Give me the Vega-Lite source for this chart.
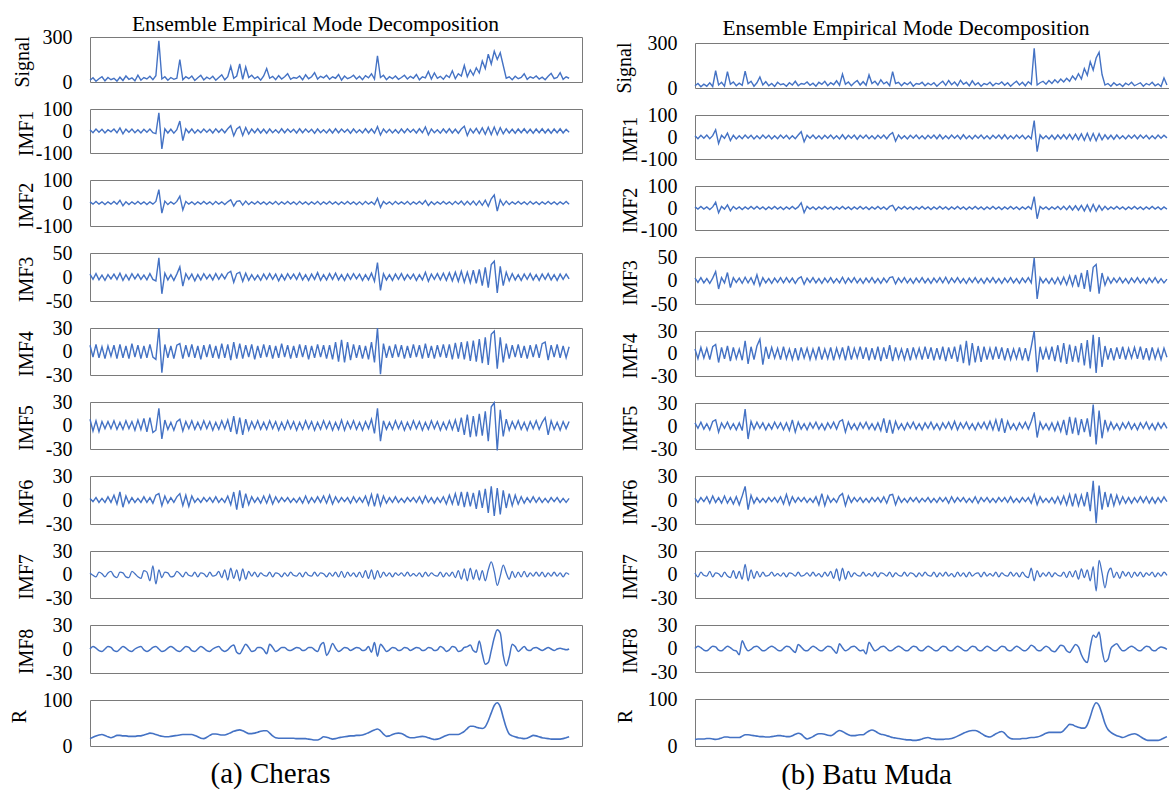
{
"$schema":"https://vega.github.io/schema/vega-lite/v6.json",
"padding":{"left":8,"top":12,"right":0,"bottom":0},
"background":"white",
"config":{
"view":{"stroke":"#7a7a7a","strokeWidth":1},
"axis":{"grid":false,"ticks":false,"domain":false,"labelFont":"Liberation Serif","labelFontSize":20,"labelColor":"#000000","labelPadding":18,"labelOverlap":false,"titleFont":"Liberation Serif","titleFontSize":20,"titleFontWeight":"normal","titleColor":"#000000"},
"axisY":{"labelExpr":"''+datum.value"},
"line":{"color":"#4472C4","strokeWidth":1.4}
},
"datasets":{
"L":[
{"x":0,"S":12,"a":6,"b":5,"c":6,"d":8,"e":8,"f":2,"g":2,"h":0,"r":16},
{"x":1,"S":28,"a":-8,"b":-5,"c":-5,"d":-7,"e":-7,"f":-2,"g":-1,"h":3,"r":19},
{"x":2,"S":5,"a":9,"b":7,"c":7,"d":9,"e":6,"f":3,"g":-3,"h":1,"r":22},
{"x":3,"S":22,"a":-6,"b":-5,"c":-6,"d":-8,"e":-8,"f":-3,"g":3,"h":-2,"r":24},
{"x":4,"S":35,"a":8,"b":5,"c":4,"d":6,"e":5,"f":2,"g":1,"h":-3,"r":25},
{"x":5,"S":8,"a":-9,"b":-7,"c":-7,"d":-9,"e":-4,"f":-3,"g":-3,"h":0,"r":23},
{"x":6,"S":30,"a":6,"b":5,"c":5,"d":7,"e":5,"f":4,"g":2,"h":3,"r":20},
{"x":7,"S":15,"a":-4,"b":-5,"c":-4,"d":-6,"e":-4,"f":-3,"g":4,"h":2,"r":18},
{"x":8,"S":25,"a":9,"b":7,"c":6,"d":8,"e":6,"f":6,"g":-2,"h":-2,"r":20},
{"x":9,"S":6,"a":-8,"b":-5,"c":-5,"d":-9,"e":-5,"f":-5,"g":-4,"h":-3,"r":23},
{"x":10,"S":32,"a":14,"b":12,"c":8,"d":9,"e":4,"f":10,"g":3,"h":0,"r":23},
{"x":11,"S":10,"a":-13,"b":-12,"c":-7,"d":-8,"e":-5,"f":-9,"g":2,"h":3,"r":22},
{"x":12,"S":40,"a":8,"b":5,"c":5,"d":7,"e":6,"f":5,"g":-3,"h":1,"r":22},
{"x":13,"S":18,"a":-6,"b":-7,"c":-6,"d":-9,"e":-4,"f":-4,"g":-4,"h":-2,"r":21},
{"x":14,"S":28,"a":9,"b":5,"c":7,"d":10,"e":5,"f":3,"g":4,"h":-3,"r":21},
{"x":15,"S":8,"a":-8,"b":-5,"c":-4,"d":-7,"e":-6,"f":-3,"g":1,"h":0,"r":21},
{"x":16,"S":45,"a":6,"b":7,"c":6,"d":8,"e":7,"f":2,"g":-3,"h":2,"r":22},
{"x":17,"S":12,"a":-9,"b":-5,"c":-5,"d":-9,"e":-5,"f":-3,"g":-5,"h":3,"r":22},
{"x":18,"S":30,"a":8,"b":5,"c":4,"d":7,"e":9,"f":4,"g":5,"h":-1,"r":24},
{"x":19,"S":20,"a":-6,"b":-7,"c":-6,"d":-8,"e":-8,"f":-3,"g":3,"h":-3,"r":26},
{"x":20,"S":38,"a":9,"b":5,"c":7,"d":9,"e":10,"f":3,"g":-8,"h":-1,"r":28},
{"x":21,"S":15,"a":-8,"b":-5,"c":-5,"d":-7,"e":-9,"f":-4,"g":11,"h":2,"r":27},
{"x":22,"S":42,"a":-12,"b":7,"c":-8,"d":-10,"e":-6,"f":6,"g":-12,"h":3,"r":25},
{"x":23,"S":275,"a":83,"b":58,"c":40,"d":30,"e":22,"f":8,"g":6,"h":0,"r":23},
{"x":24,"S":20,"a":-81,"b":-44,"c":-35,"d":-27,"e":-17,"f":-7,"g":-4,"h":-3,"r":21},
{"x":25,"S":35,"a":10,"b":8,"c":8,"d":9,"e":7,"f":5,"g":3,"h":-2,"r":20},
{"x":26,"S":12,"a":-9,"b":-7,"c":-6,"d":-8,"e":-5,"f":-4,"g":2,"h":1,"r":20},
{"x":27,"S":30,"a":8,"b":5,"c":5,"d":7,"e":4,"f":3,"g":-3,"h":3,"r":21},
{"x":28,"S":18,"a":-10,"b":-5,"c":-7,"d":-9,"e":-6,"f":-3,"g":-2,"h":1,"r":22},
{"x":29,"S":25,"a":6,"b":7,"c":6,"d":8,"e":5,"f":4,"g":4,"h":-2,"r":23},
{"x":30,"S":150,"a":45,"b":30,"c":21,"d":10,"e":8,"f":8,"g":1,"h":-3,"r":24},
{"x":31,"S":15,"a":-44,"b":-30,"c":-19,"d":-9,"e":-7,"f":-7,"g":-3,"h":0,"r":25},
{"x":32,"S":35,"a":10,"b":7,"c":7,"d":8,"e":5,"f":6,"g":3,"h":3,"r":25},
{"x":33,"S":22,"a":-8,"b":-5,"c":-5,"d":-7,"e":-4,"f":-8,"g":-1,"h":2,"r":25},
{"x":34,"S":40,"a":9,"b":5,"c":6,"d":9,"e":6,"f":5,"g":-2,"h":-2,"r":25},
{"x":35,"S":10,"a":-10,"b":-7,"c":-8,"d":-8,"e":-5,"f":-3,"g":3,"h":-3,"r":23},
{"x":36,"S":28,"a":6,"b":5,"c":5,"d":7,"e":4,"f":2,"g":-3,"h":0,"r":20},
{"x":37,"S":45,"a":-8,"b":-5,"c":-6,"d":-10,"e":-5,"f":-3,"g":2,"h":3,"r":17},
{"x":38,"S":14,"a":9,"b":7,"c":7,"d":8,"e":6,"f":3,"g":1,"h":1,"r":16},
{"x":39,"S":32,"a":-6,"b":-5,"c":-4,"d":-7,"e":-4,"f":-2,"g":-3,"h":-2,"r":19},
{"x":40,"S":20,"a":8,"b":5,"c":5,"d":9,"e":5,"f":3,"g":3,"h":-3,"r":23},
{"x":41,"S":38,"a":-9,"b":-7,"c":-6,"d":-8,"e":-6,"f":-3,"g":-2,"h":0,"r":26},
{"x":42,"S":12,"a":10,"b":7,"c":7,"d":7,"e":4,"f":4,"g":-1,"h":2,"r":26},
{"x":43,"S":30,"a":-6,"b":-5,"c":-5,"d":-9,"e":-5,"f":-3,"g":4,"h":3,"r":25},
{"x":44,"S":48,"a":9,"b":5,"c":6,"d":10,"e":6,"f":2,"g":-4,"h":-1,"r":24},
{"x":45,"S":15,"a":-8,"b":-7,"c":-4,"d":-8,"e":-4,"f":-3,"g":6,"h":-3,"r":24},
{"x":46,"S":35,"a":10,"b":5,"c":8,"d":9,"e":7,"f":5,"g":-7,"h":-1,"r":26},
{"x":47,"S":105,"a":24,"b":14,"c":12,"d":-11,"e":-8,"f":-6,"g":8,"h":3,"r":29},
{"x":48,"S":25,"a":-22,"b":-13,"c":-11,"d":12,"e":12,"f":10,"g":-5,"h":5,"r":32},
{"x":49,"S":40,"a":9,"b":7,"c":7,"d":-9,"e":-11,"f":-12,"g":6,"h":-4,"r":34},
{"x":50,"S":120,"a":20,"b":10,"c":10,"d":10,"e":10,"f":12,"g":-8,"h":-6,"r":35},
{"x":51,"S":18,"a":-20,"b":-9,"c":-9,"d":-9,"e":-12,"f":-10,"g":7,"h":0,"r":33},
{"x":52,"S":100,"a":16,"b":8,"c":8,"d":8,"e":8,"f":8,"g":-6,"h":6,"r":30},
{"x":53,"S":30,"a":-14,"b":-7,"c":-7,"d":-7,"e":-6,"f":-6,"g":4,"h":2,"r":27},
{"x":54,"S":45,"a":9,"b":5,"c":5,"d":9,"e":5,"f":4,"g":-2,"h":-3,"r":27},
{"x":55,"S":22,"a":-8,"b":-5,"c":-6,"d":-10,"e":-4,"f":-3,"g":3,"h":-2,"r":28},
{"x":56,"S":35,"a":10,"b":7,"c":4,"d":7,"e":6,"f":3,"g":-3,"h":2,"r":30},
{"x":57,"S":12,"a":-9,"b":-5,"c":-7,"d":-8,"e":-5,"f":-4,"g":2,"h":2,"r":32},
{"x":58,"S":40,"a":8,"b":5,"c":6,"d":9,"e":4,"f":5,"g":-1,"h":-1,"r":33},
{"x":59,"S":90,"a":-10,"b":-7,"c":-5,"d":-7,"e":-5,"f":-4,"g":-2,"h":-6,"r":33},
{"x":60,"S":25,"a":9,"b":5,"c":7,"d":8,"e":6,"f":6,"g":3,"h":6,"r":28},
{"x":61,"S":38,"a":-8,"b":-5,"c":-5,"d":-9,"e":-4,"f":-5,"g":-3,"h":2,"r":22},
{"x":62,"S":15,"a":6,"b":7,"c":6,"d":7,"e":5,"f":4,"g":2,"h":-3,"r":18},
{"x":63,"S":42,"a":-9,"b":-7,"c":-8,"d":-8,"e":-6,"f":-3,"g":1,"h":-1,"r":17},
{"x":64,"S":20,"a":10,"b":5,"c":5,"d":10,"e":4,"f":3,"g":-3,"h":2,"r":17},
{"x":65,"S":35,"a":-8,"b":-5,"c":-6,"d":-7,"e":-5,"f":-2,"g":2,"h":2,"r":17},
{"x":66,"S":55,"a":9,"b":7,"c":7,"d":8,"e":6,"f":3,"g":-2,"h":-1,"r":17},
{"x":67,"S":18,"a":-6,"b":-5,"c":-4,"d":-9,"e":-4,"f":-3,"g":3,"h":-2,"r":17},
{"x":68,"S":30,"a":8,"b":5,"c":6,"d":7,"e":5,"f":2,"g":-1,"h":0,"r":17},
{"x":69,"S":25,"a":-9,"b":-7,"c":-5,"d":-8,"e":-6,"f":-3,"g":-2,"h":2,"r":16},
{"x":70,"S":40,"a":10,"b":7,"c":8,"d":9,"e":4,"f":3,"g":2,"h":1,"r":16},
{"x":71,"S":15,"a":-8,"b":-5,"c":-6,"d":-7,"e":-5,"f":-4,"g":-3,"h":-2,"r":16},
{"x":72,"S":48,"a":9,"b":5,"c":5,"d":8,"e":6,"f":5,"g":3,"h":-1,"r":16},
{"x":73,"S":22,"a":-6,"b":-7,"c":-7,"d":-10,"e":-4,"f":-4,"g":-1,"h":2,"r":15},
{"x":74,"S":35,"a":8,"b":5,"c":6,"d":7,"e":5,"f":3,"g":-2,"h":2,"r":14},
{"x":75,"S":62,"a":-10,"b":-5,"c":-5,"d":-8,"e":-6,"f":-3,"g":3,"h":-1,"r":13},
{"x":76,"S":20,"a":9,"b":7,"c":9,"d":9,"e":4,"f":4,"g":-2,"h":-3,"r":13},
{"x":77,"S":38,"a":-8,"b":-7,"c":-7,"d":-7,"e":-5,"f":-3,"g":2,"h":5,"r":16},
{"x":78,"S":28,"a":6,"b":5,"c":5,"d":8,"e":6,"f":5,"g":1,"h":8,"r":20},
{"x":79,"S":45,"a":-9,"b":-5,"c":-6,"d":-9,"e":-4,"f":-4,"g":-3,"h":-8,"r":19},
{"x":80,"S":18,"a":8,"b":7,"c":7,"d":8,"e":5,"f":6,"g":2,"h":-2,"r":17},
{"x":81,"S":35,"a":-9,"b":-5,"c":-5,"d":-10,"e":-6,"f":-5,"g":-2,"h":7,"r":15},
{"x":82,"S":25,"a":10,"b":5,"c":8,"d":12,"e":4,"f":4,"g":3,"h":1,"r":16},
{"x":83,"S":50,"a":-8,"b":-7,"c":-6,"d":-13,"e":-5,"f":-3,"g":-3,"h":-3,"r":18},
{"x":84,"S":12,"a":9,"b":5,"c":5,"d":15,"e":7,"f":3,"g":4,"h":-1,"r":19},
{"x":85,"S":40,"a":-6,"b":-5,"c":-7,"d":-14,"e":-6,"f":-2,"g":-4,"h":2,"r":20},
{"x":86,"S":22,"a":8,"b":7,"c":6,"d":12,"e":5,"f":3,"g":3,"h":1,"r":21},
{"x":87,"S":30,"a":-10,"b":-5,"c":-5,"d":-11,"e":-4,"f":-4,"g":-2,"h":-2,"r":22},
{"x":88,"S":45,"a":9,"b":5,"c":7,"d":9,"e":6,"f":4,"g":2,"h":0,"r":22},
{"x":89,"S":20,"a":-8,"b":-7,"c":-4,"d":-8,"e":-5,"f":-3,"g":-3,"h":2,"r":23},
{"x":90,"S":38,"a":6,"b":5,"c":6,"d":8,"e":4,"f":3,"g":3,"h":1,"r":23},
{"x":91,"S":15,"a":-9,"b":-7,"c":-7,"d":-9,"e":-6,"f":-3,"g":-4,"h":-2,"r":24},
{"x":92,"S":42,"a":10,"b":7,"c":5,"d":7,"e":5,"f":5,"g":5,"h":-1,"r":26},
{"x":93,"S":28,"a":-8,"b":-5,"c":-6,"d":-10,"e":-4,"f":-6,"g":-5,"h":3,"r":29},
{"x":94,"S":55,"a":9,"b":5,"c":8,"d":12,"e":8,"f":7,"g":6,"h":-4,"r":32},
{"x":95,"S":20,"a":-10,"b":-7,"c":-9,"d":-14,"e":-10,"f":-8,"g":-6,"h":8,"r":35},
{"x":96,"S":175,"a":20,"b":20,"c":30,"d":30,"e":22,"f":8,"g":5,"h":-9,"r":37},
{"x":97,"S":30,"a":-18,"b":-19,"c":-28,"d":-29,"e":-20,"f":-7,"g":-4,"h":6,"r":33},
{"x":98,"S":45,"a":9,"b":7,"c":7,"d":10,"e":6,"f":5,"g":3,"h":2,"r":26},
{"x":99,"S":15,"a":-8,"b":-5,"c":-6,"d":-8,"e":-5,"f":-4,"g":-2,"h":-3,"r":21},
{"x":100,"S":35,"a":8,"b":5,"c":5,"d":7,"e":4,"f":3,"g":2,"h":-1,"r":22},
{"x":101,"S":22,"a":-9,"b":-7,"c":-7,"d":-8,"e":-5,"f":-3,"g":-3,"h":2,"r":25},
{"x":102,"S":40,"a":6,"b":7,"c":6,"d":9,"e":6,"f":4,"g":2,"h":1,"r":27},
{"x":103,"S":18,"a":-10,"b":-5,"c":-5,"d":-7,"e":-4,"f":-3,"g":-1,"h":-2,"r":28},
{"x":104,"S":30,"a":9,"b":5,"c":7,"d":8,"e":5,"f":2,"g":2,"h":-1,"r":27},
{"x":105,"S":45,"a":-8,"b":-5,"c":-6,"d":-9,"e":-6,"f":-3,"g":-2,"h":2,"r":24},
{"x":106,"S":20,"a":10,"b":7,"c":5,"d":7,"e":4,"f":3,"g":3,"h":1,"r":20},
{"x":107,"S":38,"a":-6,"b":-7,"c":-4,"d":-8,"e":-5,"f":-2,"g":-2,"h":-2,"r":18},
{"x":108,"S":25,"a":8,"b":5,"c":6,"d":9,"e":6,"f":3,"g":1,"h":0,"r":18},
{"x":109,"S":50,"a":-9,"b":-5,"c":-7,"d":-7,"e":-4,"f":-3,"g":-2,"h":2,"r":19},
{"x":110,"S":15,"a":10,"b":7,"c":5,"d":8,"e":5,"f":4,"g":2,"h":1,"r":20},
{"x":111,"S":35,"a":-8,"b":-5,"c":-6,"d":-9,"e":-6,"f":-4,"g":-3,"h":-2,"r":21},
{"x":112,"S":28,"a":18,"b":11,"c":10,"d":10,"e":4,"f":5,"g":3,"h":-1,"r":20},
{"x":113,"S":70,"a":-17,"b":-11,"c":-9,"d":-8,"e":-5,"f":-3,"g":-2,"h":2,"r":18},
{"x":114,"S":20,"a":9,"b":5,"c":6,"d":7,"e":6,"f":3,"g":2,"h":1,"r":16},
{"x":115,"S":60,"a":-8,"b":-7,"c":-5,"d":-9,"e":-4,"f":-4,"g":-1,"h":-2,"r":14},
{"x":116,"S":25,"a":6,"b":5,"c":7,"d":8,"e":5,"f":3,"g":-2,"h":-1,"r":15},
{"x":117,"S":38,"a":-10,"b":-5,"c":-6,"d":-7,"e":-6,"f":-3,"g":3,"h":3,"r":17},
{"x":118,"S":18,"a":9,"b":7,"c":8,"d":9,"e":4,"f":4,"g":-3,"h":1,"r":20},
{"x":119,"S":45,"a":-8,"b":-5,"c":-7,"d":-8,"e":-5,"f":-5,"g":2,"h":-3,"r":23},
{"x":120,"S":30,"a":10,"b":5,"c":9,"d":9,"e":6,"f":6,"g":-2,"h":-1,"r":25},
{"x":121,"S":75,"a":-9,"b":-7,"c":-8,"d":-10,"e":-5,"f":-5,"g":3,"h":3,"r":25},
{"x":122,"S":22,"a":8,"b":7,"c":10,"d":11,"e":7,"f":8,"g":-4,"h":2,"r":25},
{"x":123,"S":55,"a":-10,"b":-5,"c":-9,"d":-9,"e":-8,"f":-7,"g":5,"h":-3,"r":25},
{"x":124,"S":40,"a":9,"b":8,"c":12,"d":12,"e":10,"f":10,"g":-6,"h":-2,"r":28},
{"x":125,"S":110,"a":22,"b":-8,"c":-11,"d":-10,"e":-12,"f":-9,"g":7,"h":2,"r":32},
{"x":126,"S":35,"a":-21,"b":7,"c":10,"d":13,"e":14,"f":10,"g":-8,"h":3,"r":38},
{"x":127,"S":80,"a":10,"b":-7,"c":-12,"d":-12,"e":-15,"f":-8,"g":8,"h":5,"r":43},
{"x":128,"S":45,"a":-9,"b":8,"c":14,"d":14,"e":12,"f":9,"g":-6,"h":-2,"r":43},
{"x":129,"S":95,"a":12,"b":-9,"c":-13,"d":-13,"e":-14,"f":-11,"g":6,"h":-4,"r":41},
{"x":130,"S":60,"a":-12,"b":9,"c":16,"d":16,"e":15,"f":12,"g":-7,"h":10,"r":39},
{"x":131,"S":140,"a":14,"b":-10,"c":-18,"d":-15,"e":-13,"f":-10,"g":5,"h":-6,"r":38},
{"x":132,"S":90,"a":-15,"b":12,"c":20,"d":18,"e":18,"f":14,"g":-8,"h":-19,"r":42},
{"x":133,"S":185,"a":17,"b":-14,"c":-22,"d":-17,"e":-20,"f":-16,"g":6,"h":-17,"r":55},
{"x":134,"S":120,"a":-16,"b":18,"c":26,"d":22,"e":24,"f":17,"g":16,"h":-2,"r":72},
{"x":135,"S":205,"a":18,"b":35,"c":33,"d":26,"e":29,"f":-20,"g":4,"h":14,"r":88},
{"x":136,"S":150,"a":-17,"b":-35,"c":-33,"d":-22,"e":-32,"f":15,"g":-14,"h":24,"r":94},
{"x":137,"S":195,"a":15,"b":14,"c":22,"d":18,"e":20,"f":-18,"g":-2,"h":20,"r":85},
{"x":138,"S":110,"a":-13,"b":-10,"c":-18,"d":-14,"e":-14,"f":12,"g":12,"h":-8,"r":62},
{"x":139,"S":25,"a":10,"b":8,"c":10,"d":10,"e":8,"f":-10,"g":2,"h":-21,"r":40},
{"x":140,"S":35,"a":-9,"b":-7,"c":-8,"d":-9,"e":-6,"f":8,"g":-6,"h":-10,"r":26},
{"x":141,"S":15,"a":8,"b":5,"c":7,"d":8,"e":5,"f":-7,"g":4,"h":6,"r":22},
{"x":142,"S":38,"a":-10,"b":-5,"c":-6,"d":-7,"e":-4,"f":6,"g":-4,"h":3,"r":20},
{"x":143,"S":22,"a":9,"b":7,"c":5,"d":9,"e":6,"f":-5,"g":3,"h":-3,"r":18},
{"x":144,"S":30,"a":-8,"b":-5,"c":-7,"d":-8,"e":-5,"f":4,"g":-3,"h":0,"r":17},
{"x":145,"S":55,"a":10,"b":5,"c":6,"d":7,"e":4,"f":-4,"g":4,"h":3,"r":16},
{"x":146,"S":18,"a":-9,"b":-7,"c":-5,"d":-9,"e":-6,"f":3,"g":-3,"h":-1,"r":17},
{"x":147,"S":35,"a":8,"b":7,"c":7,"d":8,"e":5,"f":-3,"g":2,"h":-2,"r":20},
{"x":148,"S":25,"a":-10,"b":-5,"c":-6,"d":-7,"e":-4,"f":4,"g":-2,"h":1,"r":23},
{"x":149,"S":40,"a":9,"b":5,"c":5,"d":9,"e":6,"f":-3,"g":3,"h":2,"r":22},
{"x":150,"S":20,"a":-8,"b":-7,"c":-7,"d":-8,"e":-5,"f":3,"g":-2,"h":0,"r":20},
{"x":151,"S":32,"a":10,"b":5,"c":6,"d":10,"e":4,"f":-3,"g":3,"h":-2,"r":18},
{"x":152,"S":15,"a":-9,"b":-5,"c":-5,"d":12,"e":10,"f":2,"g":-3,"h":0,"r":17},
{"x":153,"S":38,"a":8,"b":7,"c":7,"d":-11,"e":-12,"f":-3,"g":2,"h":2,"r":16},
{"x":154,"S":58,"a":-10,"b":-5,"c":-6,"d":8,"e":6,"f":3,"g":-2,"h":0,"r":15},
{"x":155,"S":22,"a":9,"b":5,"c":5,"d":-7,"e":-5,"f":-2,"g":3,"h":-2,"r":15},
{"x":156,"S":30,"a":-8,"b":-7,"c":-7,"d":9,"e":4,"f":3,"g":-2,"h":0,"r":15},
{"x":157,"S":62,"a":10,"b":5,"c":6,"d":-8,"e":-6,"f":-3,"g":2,"h":1,"r":15},
{"x":158,"S":18,"a":-9,"b":-5,"c":-5,"d":7,"e":5,"f":2,"g":-3,"h":0,"r":16},
{"x":159,"S":35,"a":8,"b":7,"c":6,"d":-8,"e":-4,"f":-3,"g":2,"h":-1,"r":18},
{"x":160,"S":25,"a":-6,"b":-5,"c":-4,"d":6,"e":5,"f":2,"g":0,"h":0,"r":20}
],
"R":[
{"x":0,"S":15,"a":6,"b":5,"c":5,"d":6,"e":4,"f":2,"g":2,"h":0,"r":14},
{"x":1,"S":30,"a":-8,"b":-5,"c":-4,"d":-7,"e":-3,"f":-3,"g":-3,"h":3,"r":15},
{"x":2,"S":8,"a":8,"b":7,"c":6,"d":8,"e":5,"f":3,"g":3,"h":1,"r":15},
{"x":3,"S":25,"a":-6,"b":-5,"c":-5,"d":-6,"e":-4,"f":-2,"g":-1,"h":-2,"r":15},
{"x":4,"S":12,"a":9,"b":5,"c":4,"d":7,"e":3,"f":4,"g":-2,"h":-3,"r":16},
{"x":5,"S":35,"a":-8,"b":-7,"c":-6,"d":-8,"e":-5,"f":-4,"g":4,"h":0,"r":16},
{"x":6,"S":10,"a":6,"b":5,"c":5,"d":9,"e":6,"f":5,"g":-3,"h":3,"r":15},
{"x":7,"S":115,"a":33,"b":26,"c":19,"d":12,"e":8,"f":-3,"g":2,"h":2,"r":14},
{"x":8,"S":20,"a":-29,"b":-22,"c":-18,"d":-12,"e":-8,"f":3,"g":1,"h":-2,"r":15},
{"x":9,"S":38,"a":8,"b":7,"c":6,"d":8,"e":4,"f":-4,"g":-3,"h":-3,"r":17},
{"x":10,"S":12,"a":-6,"b":-5,"c":-5,"d":-7,"e":-3,"f":5,"g":3,"h":0,"r":19},
{"x":11,"S":109,"a":18,"b":14,"c":17,"d":10,"e":5,"f":-4,"g":-2,"h":3,"r":19},
{"x":12,"S":25,"a":-16,"b":-13,"c":-15,"d":-10,"e":-4,"f":3,"g":-4,"h":1,"r":18},
{"x":13,"S":40,"a":8,"b":7,"c":6,"d":8,"e":3,"f":-5,"g":5,"h":-2,"r":18},
{"x":14,"S":15,"a":-9,"b":-5,"c":-4,"d":-7,"e":-5,"f":4,"g":-5,"h":-3,"r":18},
{"x":15,"S":32,"a":6,"b":5,"c":5,"d":6,"e":4,"f":-6,"g":4,"h":-8,"r":18},
{"x":16,"S":18,"a":-8,"b":-7,"c":-6,"d":-9,"e":-6,"f":5,"g":-6,"h":10,"r":21},
{"x":17,"S":113,"a":9,"b":5,"c":7,"d":17,"e":22,"f":17,"g":13,"h":2,"r":24},
{"x":18,"S":28,"a":-6,"b":-5,"c":-5,"d":-14,"e":-17,"f":-12,"g":-8,"h":-3,"r":24},
{"x":19,"S":45,"a":8,"b":7,"c":6,"d":9,"e":6,"f":6,"g":6,"h":-1,"r":23},
{"x":20,"S":12,"a":-9,"b":-5,"c":-8,"d":-8,"e":-4,"f":-4,"g":-5,"h":2,"r":22},
{"x":21,"S":35,"a":6,"b":7,"c":12,"d":10,"e":5,"f":3,"g":4,"h":3,"r":21},
{"x":22,"S":73,"a":-8,"b":-5,"c":-11,"d":19,"e":-3,"f":-3,"g":-3,"h":0,"r":20},
{"x":23,"S":20,"a":9,"b":5,"c":6,"d":-15,"e":4,"f":2,"g":3,"h":-3,"r":20},
{"x":24,"S":42,"a":-6,"b":-7,"c":-5,"d":9,"e":-5,"f":-3,"g":-2,"h":-2,"r":19},
{"x":25,"S":15,"a":8,"b":5,"c":4,"d":-7,"e":3,"f":3,"g":-1,"h":1,"r":19},
{"x":26,"S":30,"a":-9,"b":-5,"c":-6,"d":8,"e":-4,"f":-2,"g":3,"h":3,"r":20},
{"x":27,"S":10,"a":6,"b":7,"c":5,"d":-6,"e":5,"f":3,"g":-2,"h":1,"r":21},
{"x":28,"S":38,"a":-8,"b":-5,"c":-4,"d":7,"e":-3,"f":-3,"g":1,"h":-2,"r":22},
{"x":29,"S":22,"a":9,"b":5,"c":6,"d":-8,"e":4,"f":4,"g":-2,"h":-3,"r":22},
{"x":30,"S":28,"a":-6,"b":-7,"c":-5,"d":9,"e":-5,"f":-5,"g":2,"h":0,"r":21},
{"x":31,"S":12,"a":8,"b":5,"c":6,"d":-7,"e":4,"f":7,"g":-3,"h":3,"r":20},
{"x":32,"S":35,"a":-9,"b":-5,"c":-4,"d":6,"e":-6,"f":-6,"g":2,"h":2,"r":20},
{"x":33,"S":20,"a":6,"b":7,"c":5,"d":-8,"e":8,"f":4,"g":1,"h":-2,"r":22},
{"x":34,"S":45,"a":-8,"b":-5,"c":-6,"d":7,"e":-8,"f":-3,"g":-2,"h":-5,"r":25},
{"x":35,"S":15,"a":9,"b":5,"c":4,"d":-9,"e":5,"f":3,"g":3,"h":5,"r":27},
{"x":36,"S":30,"a":24,"b":24,"c":8,"d":8,"e":-4,"f":-2,"g":-2,"h":2,"r":25},
{"x":37,"S":25,"a":-22,"b":-21,"c":-8,"d":-6,"e":3,"f":3,"g":-1,"h":-2,"r":19},
{"x":38,"S":40,"a":8,"b":7,"c":5,"d":7,"e":-5,"f":-3,"g":2,"h":-3,"r":15},
{"x":39,"S":18,"a":-6,"b":-5,"c":-4,"d":-8,"e":4,"f":2,"g":-2,"h":0,"r":17},
{"x":40,"S":32,"a":9,"b":5,"c":6,"d":6,"e":-3,"f":-3,"g":3,"h":3,"r":20},
{"x":41,"S":12,"a":-8,"b":-7,"c":-5,"d":-7,"e":5,"f":4,"g":-2,"h":1,"r":24},
{"x":42,"S":38,"a":6,"b":5,"c":4,"d":9,"e":-4,"f":-6,"g":1,"h":-2,"r":26},
{"x":43,"S":25,"a":-9,"b":-5,"c":-6,"d":-8,"e":3,"f":8,"g":-3,"h":-3,"r":26},
{"x":44,"S":45,"a":8,"b":7,"c":5,"d":6,"e":-5,"f":-7,"g":3,"h":0,"r":25},
{"x":45,"S":15,"a":-6,"b":-5,"c":-4,"d":-7,"e":4,"f":5,"g":-2,"h":3,"r":23},
{"x":46,"S":35,"a":9,"b":5,"c":6,"d":8,"e":-3,"f":-3,"g":4,"h":2,"r":22},
{"x":47,"S":22,"a":-8,"b":-7,"c":-5,"d":-9,"e":5,"f":2,"g":-5,"h":-2,"r":25},
{"x":48,"S":48,"a":6,"b":5,"c":4,"d":7,"e":-4,"f":-3,"g":7,"h":-6,"r":30},
{"x":49,"S":18,"a":-9,"b":-5,"c":-5,"d":-6,"e":6,"f":5,"g":-8,"h":6,"r":33},
{"x":50,"S":93,"a":10,"b":7,"c":7,"d":8,"e":8,"f":8,"g":8,"h":1,"r":31},
{"x":51,"S":25,"a":-9,"b":-5,"c":-6,"d":-9,"e":-8,"f":-7,"g":-6,"h":-3,"r":27},
{"x":52,"S":40,"a":8,"b":5,"c":5,"d":10,"e":5,"f":5,"g":4,"h":-1,"r":24},
{"x":53,"S":15,"a":-6,"b":-7,"c":-4,"d":-8,"e":-4,"f":-3,"g":-3,"h":2,"r":22},
{"x":54,"S":35,"a":9,"b":5,"c":6,"d":7,"e":3,"f":3,"g":2,"h":3,"r":22},
{"x":55,"S":50,"a":-10,"b":-5,"c":-5,"d":-6,"e":-5,"f":-2,"g":-1,"h":0,"r":23},
{"x":56,"S":20,"a":8,"b":7,"c":4,"d":9,"e":4,"f":3,"g":-2,"h":-3,"r":24},
{"x":57,"S":42,"a":-6,"b":-5,"c":-6,"d":-7,"e":-3,"f":-3,"g":3,"h":-2,"r":24},
{"x":58,"S":18,"a":9,"b":5,"c":5,"d":8,"e":5,"f":2,"g":-2,"h":-7,"r":28},
{"x":59,"S":87,"a":-8,"b":-7,"c":-4,"d":-9,"e":-4,"f":-3,"g":1,"h":8,"r":32},
{"x":60,"S":30,"a":6,"b":5,"c":6,"d":7,"e":3,"f":3,"g":-2,"h":2,"r":34},
{"x":61,"S":45,"a":-9,"b":-5,"c":-5,"d":-8,"e":-5,"f":-2,"g":3,"h":-3,"r":32},
{"x":62,"S":20,"a":8,"b":7,"c":4,"d":9,"e":4,"f":3,"g":-3,"h":-1,"r":28},
{"x":63,"S":55,"a":-6,"b":-5,"c":-6,"d":-10,"e":-6,"f":-3,"g":2,"h":2,"r":25},
{"x":64,"S":28,"a":9,"b":5,"c":5,"d":8,"e":10,"f":4,"g":1,"h":3,"r":24},
{"x":65,"S":40,"a":-8,"b":-7,"c":-4,"d":-7,"e":-9,"f":-4,"g":-2,"h":0,"r":22},
{"x":66,"S":15,"a":10,"b":7,"c":6,"d":11,"e":8,"f":6,"g":3,"h":-3,"r":20},
{"x":67,"S":109,"a":20,"b":12,"c":8,"d":-10,"e":-10,"f":7,"g":-3,"h":-2,"r":18},
{"x":68,"S":30,"a":-19,"b":-11,"c":-7,"d":8,"e":6,"f":-6,"g":2,"h":1,"r":17},
{"x":69,"S":38,"a":9,"b":5,"c":5,"d":-7,"e":-4,"f":4,"g":-1,"h":3,"r":16},
{"x":70,"S":15,"a":-8,"b":-5,"c":-4,"d":6,"e":3,"f":-3,"g":-2,"h":1,"r":15},
{"x":71,"S":35,"a":6,"b":7,"c":6,"d":-8,"e":-5,"f":2,"g":3,"h":-2,"r":14},
{"x":72,"S":22,"a":-9,"b":-5,"c":-5,"d":7,"e":4,"f":-3,"g":-2,"h":-3,"r":13},
{"x":73,"S":40,"a":8,"b":5,"c":4,"d":-9,"e":-3,"f":3,"g":2,"h":0,"r":13},
{"x":74,"S":12,"a":-6,"b":-7,"c":-6,"d":8,"e":5,"f":-2,"g":1,"h":3,"r":12},
{"x":75,"S":30,"a":9,"b":5,"c":5,"d":-6,"e":-4,"f":3,"g":-3,"h":2,"r":12},
{"x":76,"S":25,"a":-8,"b":-5,"c":-4,"d":7,"e":3,"f":-3,"g":2,"h":-2,"r":13},
{"x":77,"S":38,"a":6,"b":7,"c":6,"d":-8,"e":-5,"f":2,"g":-2,"h":-3,"r":15},
{"x":78,"S":15,"a":-9,"b":-5,"c":-5,"d":9,"e":4,"f":-2,"g":3,"h":0,"r":17},
{"x":79,"S":32,"a":8,"b":5,"c":4,"d":-7,"e":-3,"f":3,"g":-1,"h":3,"r":18},
{"x":80,"S":20,"a":-6,"b":-7,"c":-6,"d":8,"e":5,"f":-3,"g":-2,"h":1,"r":16},
{"x":81,"S":35,"a":9,"b":5,"c":5,"d":-9,"e":-4,"f":2,"g":3,"h":-2,"r":15},
{"x":82,"S":12,"a":-8,"b":-5,"c":-4,"d":7,"e":3,"f":-3,"g":-3,"h":-3,"r":14},
{"x":83,"S":30,"a":10,"b":7,"c":6,"d":-8,"e":-5,"f":3,"g":2,"h":0,"r":14},
{"x":84,"S":45,"a":-9,"b":-5,"c":-5,"d":9,"e":4,"f":-2,"g":-2,"h":3,"r":14},
{"x":85,"S":18,"a":6,"b":5,"c":7,"d":-10,"e":-3,"f":3,"g":3,"h":2,"r":15},
{"x":86,"S":50,"a":-8,"b":-7,"c":-6,"d":8,"e":5,"f":-4,"g":-2,"h":-2,"r":15},
{"x":87,"S":22,"a":9,"b":5,"c":5,"d":-7,"e":-4,"f":4,"g":1,"h":-3,"r":16},
{"x":88,"S":40,"a":-6,"b":-5,"c":-4,"d":9,"e":6,"f":-3,"g":-3,"h":0,"r":18},
{"x":89,"S":15,"a":8,"b":7,"c":6,"d":-11,"e":-5,"f":3,"g":3,"h":3,"r":21},
{"x":90,"S":52,"a":-9,"b":-5,"c":-5,"d":12,"e":4,"f":-2,"g":-2,"h":1,"r":24},
{"x":91,"S":25,"a":10,"b":5,"c":4,"d":-13,"e":-3,"f":3,"g":2,"h":-2,"r":27},
{"x":92,"S":38,"a":-8,"b":-7,"c":-6,"d":17,"e":5,"f":-3,"g":-3,"h":-3,"r":30},
{"x":93,"S":15,"a":6,"b":5,"c":5,"d":-16,"e":-4,"f":2,"g":3,"h":0,"r":32},
{"x":94,"S":48,"a":-9,"b":-5,"c":-4,"d":14,"e":3,"f":-3,"g":-2,"h":3,"r":33},
{"x":95,"S":20,"a":8,"b":7,"c":6,"d":-12,"e":-5,"f":4,"g":1,"h":2,"r":33},
{"x":96,"S":35,"a":-6,"b":-5,"c":-5,"d":10,"e":4,"f":-4,"g":2,"h":-2,"r":31},
{"x":97,"S":12,"a":9,"b":5,"c":4,"d":-11,"e":-3,"f":3,"g":-3,"h":-3,"r":27},
{"x":98,"S":30,"a":-8,"b":-7,"c":-6,"d":9,"e":5,"f":-2,"g":3,"h":0,"r":23},
{"x":99,"S":22,"a":6,"b":5,"c":5,"d":-8,"e":-4,"f":3,"g":-2,"h":3,"r":20},
{"x":100,"S":38,"a":-9,"b":-5,"c":-4,"d":7,"e":6,"f":-3,"g":1,"h":1,"r":19},
{"x":101,"S":15,"a":8,"b":7,"c":6,"d":-8,"e":-5,"f":2,"g":-2,"h":-2,"r":22},
{"x":102,"S":32,"a":-6,"b":-5,"c":-5,"d":9,"e":8,"f":-3,"g":3,"h":-3,"r":26},
{"x":103,"S":25,"a":9,"b":5,"c":4,"d":-7,"e":-7,"f":3,"g":-3,"h":0,"r":29},
{"x":104,"S":40,"a":-8,"b":-7,"c":-6,"d":8,"e":10,"f":-2,"g":2,"h":3,"r":31},
{"x":105,"S":18,"a":10,"b":5,"c":5,"d":-9,"e":-9,"f":3,"g":-1,"h":2,"r":27},
{"x":106,"S":35,"a":-9,"b":-5,"c":-4,"d":7,"e":6,"f":-3,"g":-2,"h":-2,"r":20},
{"x":107,"S":12,"a":6,"b":7,"c":6,"d":-8,"e":-4,"f":4,"g":3,"h":-3,"r":16},
{"x":108,"S":30,"a":-8,"b":-5,"c":-5,"d":6,"e":3,"f":-3,"g":-2,"h":0,"r":15},
{"x":109,"S":45,"a":9,"b":5,"c":4,"d":-7,"e":-5,"f":2,"g":2,"h":3,"r":15},
{"x":110,"S":20,"a":-6,"b":-7,"c":-6,"d":8,"e":4,"f":-3,"g":-3,"h":1,"r":15},
{"x":111,"S":38,"a":8,"b":5,"c":5,"d":-9,"e":-3,"f":3,"g":3,"h":-2,"r":16},
{"x":112,"S":15,"a":-9,"b":-5,"c":-4,"d":7,"e":5,"f":-2,"g":-2,"h":-3,"r":16},
{"x":113,"S":42,"a":6,"b":7,"c":6,"d":-10,"e":-4,"f":3,"g":-4,"h":0,"r":17},
{"x":114,"S":25,"a":-8,"b":-5,"c":-5,"d":9,"e":6,"f":-4,"g":8,"h":4,"r":18},
{"x":115,"S":265,"a":75,"b":52,"c":48,"d":30,"e":18,"f":7,"g":-8,"h":2,"r":18},
{"x":116,"S":20,"a":-67,"b":-49,"c":-39,"d":-25,"e":-15,"f":-6,"g":5,"h":-2,"r":19},
{"x":117,"S":35,"a":9,"b":7,"c":6,"d":9,"e":5,"f":4,"g":-3,"h":-3,"r":21},
{"x":118,"S":45,"a":-8,"b":-5,"c":-5,"d":-8,"e":-4,"f":-3,"g":2,"h":0,"r":24},
{"x":119,"S":25,"a":6,"b":5,"c":4,"d":7,"e":3,"f":2,"g":-2,"h":3,"r":27},
{"x":120,"S":50,"a":-9,"b":-7,"c":-6,"d":-8,"e":-5,"f":-3,"g":3,"h":1,"r":29},
{"x":121,"S":30,"a":8,"b":5,"c":5,"d":9,"e":4,"f":3,"g":-3,"h":-3,"r":29},
{"x":122,"S":55,"a":-10,"b":-5,"c":-7,"d":-10,"e":-6,"f":-4,"g":2,"h":-4,"r":29},
{"x":123,"S":35,"a":9,"b":7,"c":6,"d":11,"e":5,"f":4,"g":-1,"h":0,"r":29},
{"x":124,"S":60,"a":-8,"b":-7,"c":-8,"d":-12,"e":-7,"f":-5,"g":-2,"h":4,"r":29},
{"x":125,"S":40,"a":10,"b":8,"c":7,"d":14,"e":8,"f":5,"g":3,"h":3,"r":33},
{"x":126,"S":65,"a":-9,"b":-8,"c":-9,"d":-14,"e":-12,"f":-6,"g":-4,"h":-3,"r":40},
{"x":127,"S":45,"a":12,"b":9,"c":10,"d":12,"e":12,"f":7,"g":4,"h":-5,"r":46},
{"x":128,"S":80,"a":-11,"b":-9,"c":-11,"d":-11,"e":-10,"f":-8,"g":-3,"h":0,"r":45},
{"x":129,"S":55,"a":13,"b":10,"c":12,"d":10,"e":11,"f":8,"g":5,"h":5,"r":42},
{"x":130,"S":95,"a":-12,"b":-10,"c":-14,"d":-12,"e":-12,"f":-7,"g":-6,"h":2,"r":40},
{"x":131,"S":60,"a":14,"b":12,"c":16,"d":14,"e":9,"f":6,"g":7,"h":-8,"r":38},
{"x":132,"S":130,"a":-15,"b":-13,"c":-18,"d":-16,"e":-8,"f":-8,"g":-4,"h":-15,"r":38},
{"x":133,"S":85,"a":17,"b":14,"c":22,"d":18,"e":10,"f":10,"g":6,"h":-18,"r":45},
{"x":134,"S":175,"a":-16,"b":-15,"c":-24,"d":-20,"e":-14,"f":-14,"g":-8,"h":2,"r":62},
{"x":135,"S":120,"a":16,"b":16,"c":28,"d":25,"e":28,"f":24,"g":10,"h":17,"r":82},
{"x":136,"S":200,"a":-17,"b":-14,"c":34,"d":-26,"e":-24,"f":-29,"g":-21,"h":14,"r":92},
{"x":137,"S":238,"a":15,"b":12,"c":-28,"d":22,"e":20,"f":18,"g":18,"h":21,"r":86},
{"x":138,"S":90,"a":-13,"b":-10,"c":16,"d":-18,"e":-16,"f":-12,"g":2,"h":-2,"r":68},
{"x":139,"S":20,"a":10,"b":8,"c":-10,"d":10,"e":8,"f":10,"g":-17,"h":-17,"r":48},
{"x":140,"S":30,"a":-9,"b":-7,"c":7,"d":-8,"e":-6,"f":-9,"g":2,"h":-14,"r":35},
{"x":141,"S":12,"a":8,"b":5,"c":-6,"d":7,"e":5,"f":8,"g":8,"h":0,"r":29},
{"x":142,"S":35,"a":-10,"b":-5,"c":5,"d":-9,"e":-4,"f":-7,"g":-4,"h":4,"r":25},
{"x":143,"S":18,"a":9,"b":7,"c":-4,"d":8,"e":3,"f":6,"g":3,"h":6,"r":22},
{"x":144,"S":28,"a":-8,"b":-5,"c":6,"d":-7,"e":-5,"f":-5,"g":-5,"h":1,"r":20},
{"x":145,"S":10,"a":6,"b":5,"c":-5,"d":9,"e":4,"f":4,"g":4,"h":-3,"r":18},
{"x":146,"S":32,"a":-9,"b":-7,"c":4,"d":-8,"e":-3,"f":-4,"g":-2,"h":-2,"r":20},
{"x":147,"S":20,"a":8,"b":5,"c":-6,"d":7,"e":5,"f":3,"g":3,"h":1,"r":23},
{"x":148,"S":38,"a":-6,"b":-5,"c":5,"d":-6,"e":-4,"f":-4,"g":-4,"h":3,"r":25},
{"x":149,"S":15,"a":9,"b":7,"c":-4,"d":8,"e":3,"f":3,"g":3,"h":1,"r":26},
{"x":150,"S":25,"a":-8,"b":-5,"c":6,"d":-7,"e":-5,"f":-3,"g":-2,"h":-2,"r":24},
{"x":151,"S":35,"a":9,"b":5,"c":-5,"d":9,"e":4,"f":4,"g":3,"h":-3,"r":20},
{"x":152,"S":12,"a":-6,"b":-7,"c":4,"d":-8,"e":-3,"f":-3,"g":-3,"h":0,"r":16},
{"x":153,"S":30,"a":8,"b":5,"c":-6,"d":7,"e":5,"f":4,"g":2,"h":3,"r":13},
{"x":154,"S":20,"a":-9,"b":-5,"c":5,"d":-9,"e":-4,"f":-4,"g":-1,"h":2,"r":12},
{"x":155,"S":38,"a":6,"b":7,"c":-4,"d":8,"e":3,"f":3,"g":3,"h":-2,"r":12},
{"x":156,"S":15,"a":-8,"b":-5,"c":6,"d":-7,"e":-5,"f":-4,"g":-3,"h":-3,"r":12},
{"x":157,"S":28,"a":9,"b":5,"c":-5,"d":6,"e":4,"f":3,"g":2,"h":0,"r":12},
{"x":158,"S":10,"a":-6,"b":-7,"c":4,"d":-8,"e":-3,"f":-3,"g":-2,"h":2,"r":14},
{"x":159,"S":67,"a":8,"b":5,"c":-5,"d":7,"e":4,"f":4,"g":3,"h":1,"r":17},
{"x":160,"S":20,"a":-4,"b":-5,"c":3,"d":-5,"e":-3,"f":-2,"g":-1,"h":-1,"r":20}
]
},
"spacing":31,
"hconcat":[
{"data":{"name":"L"},"spacing":27,"bounds":"flush","vconcat":[
{"width":492,"height":45,"mark":{"type":"line"},"encoding":{
"x":{"field":"x","type":"quantitative","scale":{"domain":[0,164.3],"nice":false,"zero":false},"axis":{"orient":"top","labels":false,"title":"Ensemble Empirical Mode Decomposition","titleFontSize":21.5,"titleX":225,"titleY":-7,"titleBaseline":"alphabetic"}},
"y":{"field":"S","type":"quantitative","scale":{"domain":[0,300],"nice":false,"zero":false},"axis":{"values":[0,300],"title":"Signal","titleX":-61.5,"titleY":24.5,"titleBaseline":"alphabetic"}}}},
{"width":492,"height":44,"mark":{"type":"line"},"encoding":{
"x":{"field":"x","type":"quantitative","scale":{"domain":[0,164.3],"nice":false,"zero":false},"axis":null},
"y":{"field":"a","type":"quantitative","scale":{"domain":[-100,100],"nice":false,"zero":false},"axis":{"values":[-100,0,100],"title":"IMF1","titleX":-58,"titleY":24,"titleBaseline":"alphabetic"}}}},
{"width":492,"height":46,"mark":{"type":"line"},"encoding":{
"x":{"field":"x","type":"quantitative","scale":{"domain":[0,164.3],"nice":false,"zero":false},"axis":null},
"y":{"field":"b","type":"quantitative","scale":{"domain":[-100,100],"nice":false,"zero":false},"axis":{"values":[-100,0,100],"title":"IMF2","titleX":-58,"titleY":25,"titleBaseline":"alphabetic"}}}},
{"width":492,"height":48,"mark":{"type":"line"},"encoding":{
"x":{"field":"x","type":"quantitative","scale":{"domain":[0,164.3],"nice":false,"zero":false},"axis":null},
"y":{"field":"c","type":"quantitative","scale":{"domain":[-50,50],"nice":false,"zero":false},"axis":{"values":[-50,0,50],"title":"IMF3","titleX":-58,"titleY":26,"titleBaseline":"alphabetic"}}}},
{"width":492,"height":47,"mark":{"type":"line"},"encoding":{
"x":{"field":"x","type":"quantitative","scale":{"domain":[0,164.3],"nice":false,"zero":false},"axis":null},
"y":{"field":"d","type":"quantitative","scale":{"domain":[-30,30],"nice":false,"zero":false},"axis":{"values":[-30,0,30],"title":"IMF4","titleX":-58,"titleY":25.5,"titleBaseline":"alphabetic"}}}},
{"width":492,"height":47,"mark":{"type":"line"},"encoding":{
"x":{"field":"x","type":"quantitative","scale":{"domain":[0,164.3],"nice":false,"zero":false},"axis":null},
"y":{"field":"e","type":"quantitative","scale":{"domain":[-30,30],"nice":false,"zero":false},"axis":{"values":[-30,0,30],"title":"IMF5","titleX":-58,"titleY":25.5,"titleBaseline":"alphabetic"}}}},
{"width":492,"height":48,"mark":{"type":"line"},"encoding":{
"x":{"field":"x","type":"quantitative","scale":{"domain":[0,164.3],"nice":false,"zero":false},"axis":null},
"y":{"field":"f","type":"quantitative","scale":{"domain":[-30,30],"nice":false,"zero":false},"axis":{"values":[-30,0,30],"title":"IMF6","titleX":-58,"titleY":26,"titleBaseline":"alphabetic"}}}},
{"width":492,"height":47,"mark":{"type":"line","interpolate":"monotone","strokeWidth":1.3},"encoding":{
"x":{"field":"x","type":"quantitative","scale":{"domain":[0,164.3],"nice":false,"zero":false},"axis":null},
"y":{"field":"g","type":"quantitative","scale":{"domain":[-30,30],"nice":false,"zero":false},"axis":{"values":[-30,0,30],"title":"IMF7","titleX":-58,"titleY":25.5,"titleBaseline":"alphabetic"}}}},
{"width":492,"height":48,"mark":{"type":"line","interpolate":"monotone","strokeWidth":1.5},"encoding":{
"x":{"field":"x","type":"quantitative","scale":{"domain":[0,164.3],"nice":false,"zero":false},"axis":null},
"y":{"field":"h","type":"quantitative","scale":{"domain":[-30,30],"nice":false,"zero":false},"axis":{"values":[-30,0,30],"title":"IMF8","titleX":-58,"titleY":26,"titleBaseline":"alphabetic"}}}},
{"width":492,"height":46,"mark":{"type":"line","interpolate":"monotone","strokeWidth":1.6},"encoding":{
"x":{"field":"x","type":"quantitative","scale":{"domain":[0,164.3],"nice":false,"zero":false},"axis":{"orient":"bottom","labels":false,"title":"(a) Cheras","titleFontSize":29,"titleX":180,"titleY":36,"titleBaseline":"alphabetic"}},
"y":{"field":"r","type":"quantitative","scale":{"domain":[0,100],"nice":false,"zero":false},"axis":{"values":[0,100],"title":"R","titleX":-65,"titleY":16,"titleBaseline":"alphabetic"}}}}
]},
{"spacing":5,"bounds":"flush","vconcat":[
{"width":474,"height":1,"data":{"values":[]},"mark":{"type":"point","opacity":0},"view":{"stroke":null}},
{"data":{"name":"R"},"spacing":27,"bounds":"flush","vconcat":[
{"width":474,"height":45,"mark":{"type":"line"},"encoding":{
"x":{"field":"x","type":"quantitative","scale":{"domain":[0,160.7],"nice":false,"zero":false},"axis":{"orient":"top","labels":false,"title":"Ensemble Empirical Mode Decomposition","titleFontSize":21.5,"titleX":210.5,"titleY":-8.7,"titleBaseline":"alphabetic"}},
"y":{"field":"S","type":"quantitative","scale":{"domain":[0,300],"nice":false,"zero":false},"axis":{"values":[0,300],"title":"Signal","titleX":-64.5,"titleY":24.5,"titleBaseline":"alphabetic"}}}},
{"width":474,"height":44,"mark":{"type":"line"},"encoding":{
"x":{"field":"x","type":"quantitative","scale":{"domain":[0,160.7],"nice":false,"zero":false},"axis":null},
"y":{"field":"a","type":"quantitative","scale":{"domain":[-100,100],"nice":false,"zero":false},"axis":{"values":[-100,0,100],"title":"IMF1","titleX":-59,"titleY":24,"titleBaseline":"alphabetic"}}}},
{"width":474,"height":44,"mark":{"type":"line"},"encoding":{
"x":{"field":"x","type":"quantitative","scale":{"domain":[0,160.7],"nice":false,"zero":false},"axis":null},
"y":{"field":"b","type":"quantitative","scale":{"domain":[-100,100],"nice":false,"zero":false},"axis":{"values":[-100,0,100],"title":"IMF2","titleX":-59,"titleY":24,"titleBaseline":"alphabetic"}}}},
{"width":474,"height":47,"mark":{"type":"line"},"encoding":{
"x":{"field":"x","type":"quantitative","scale":{"domain":[0,160.7],"nice":false,"zero":false},"axis":null},
"y":{"field":"c","type":"quantitative","scale":{"domain":[-50,50],"nice":false,"zero":false},"axis":{"values":[-50,0,50],"title":"IMF3","titleX":-59,"titleY":25.5,"titleBaseline":"alphabetic"}}}},
{"width":474,"height":45,"mark":{"type":"line"},"encoding":{
"x":{"field":"x","type":"quantitative","scale":{"domain":[0,160.7],"nice":false,"zero":false},"axis":null},
"y":{"field":"d","type":"quantitative","scale":{"domain":[-30,30],"nice":false,"zero":false},"axis":{"values":[-30,0,30],"title":"IMF4","titleX":-59,"titleY":24.5,"titleBaseline":"alphabetic"}}}},
{"width":474,"height":46,"mark":{"type":"line"},"encoding":{
"x":{"field":"x","type":"quantitative","scale":{"domain":[0,160.7],"nice":false,"zero":false},"axis":null},
"y":{"field":"e","type":"quantitative","scale":{"domain":[-30,30],"nice":false,"zero":false},"axis":{"values":[-30,0,30],"title":"IMF5","titleX":-59,"titleY":25,"titleBaseline":"alphabetic"}}}},
{"width":474,"height":48,"mark":{"type":"line"},"encoding":{
"x":{"field":"x","type":"quantitative","scale":{"domain":[0,160.7],"nice":false,"zero":false},"axis":null},
"y":{"field":"f","type":"quantitative","scale":{"domain":[-30,30],"nice":false,"zero":false},"axis":{"values":[-30,0,30],"title":"IMF6","titleX":-59,"titleY":26,"titleBaseline":"alphabetic"}}}},
{"width":474,"height":47,"mark":{"type":"line","interpolate":"monotone","strokeWidth":1.3},"encoding":{
"x":{"field":"x","type":"quantitative","scale":{"domain":[0,160.7],"nice":false,"zero":false},"axis":null},
"y":{"field":"g","type":"quantitative","scale":{"domain":[-30,30],"nice":false,"zero":false},"axis":{"values":[-30,0,30],"title":"IMF7","titleX":-59,"titleY":25.5,"titleBaseline":"alphabetic"}}}},
{"width":474,"height":47,"mark":{"type":"line","interpolate":"monotone","strokeWidth":1.5},"encoding":{
"x":{"field":"x","type":"quantitative","scale":{"domain":[0,160.7],"nice":false,"zero":false},"axis":null},
"y":{"field":"h","type":"quantitative","scale":{"domain":[-30,30],"nice":false,"zero":false},"axis":{"values":[-30,0,30],"title":"IMF8","titleX":-59,"titleY":25.5,"titleBaseline":"alphabetic"}}}},
{"width":474,"height":47,"mark":{"type":"line","interpolate":"monotone","strokeWidth":1.6},"encoding":{
"x":{"field":"x","type":"quantitative","scale":{"domain":[0,160.7],"nice":false,"zero":false},"axis":{"orient":"bottom","labels":false,"title":"(b) Batu Muda","titleFontSize":29,"titleX":171,"titleY":37,"titleBaseline":"alphabetic"}},
"y":{"field":"r","type":"quantitative","scale":{"domain":[0,100],"nice":false,"zero":false},"axis":{"values":[0,100],"title":"R","titleX":-64,"titleY":17,"titleBaseline":"alphabetic"}}}}
]}
]}
]
}
